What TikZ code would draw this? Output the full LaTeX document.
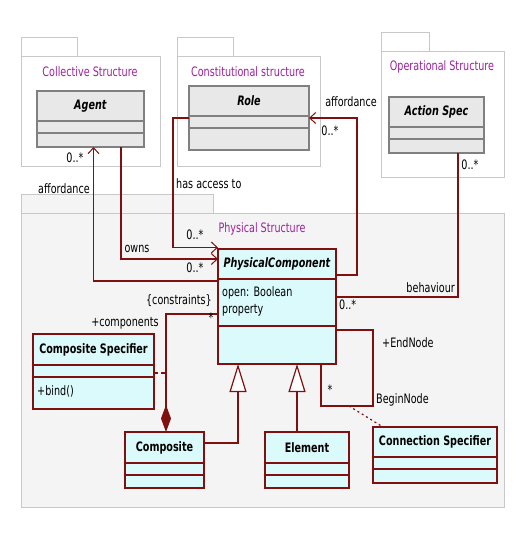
\documentclass[tikz,border=0pt]{standalone}
\usepackage{fontspec}
\setmainfont{DejaVu Sans}[FakeStretch=0.74]
\usetikzlibrary{arrows.meta,calc}
\definecolor{pkgborder}{RGB}{200,200,200}
\definecolor{pkgfill}{RGB}{244,244,244}
\definecolor{pkgtitle}{RGB}{160,32,160}
\definecolor{grayfill}{RGB}{232,232,232}
\definecolor{grayline}{RGB}{128,128,128}
\definecolor{cyanfill}{RGB}{218,250,252}
\definecolor{redline}{RGB}{128,16,16}
\tikzset{
  pkg/.style={draw=pkgborder,line width=1pt},
  pkgname/.style={text=pkgtitle,inner sep=0pt},
  gray/.style={draw=grayline,fill=grayfill,line width=1.4pt,inner sep=0pt,outer sep=0pt},
  grayline/.style={draw=grayline,line width=1.4pt},
  cyan/.style={draw=redline,fill=cyanfill,line width=1.4pt,inner sep=0pt,outer sep=0pt},
  cyanline/.style={draw=redline,line width=1.4pt},
  ctitle/.style={inner sep=0pt,font=\fontsize{13}{15}\selectfont\bfseries},
  lbl/.style={inner sep=0pt},
  assoc/.style={draw=redline,line width=1.2pt},
  openarrow/.style={-{Straight Barb[length=6pt,width=11pt,line width=1pt]}},
  genarrow/.style={-{Triangle[open,length=28pt,width=17pt,fill=white,line width=1.2pt]}},
  comparrow/.style={-{Diamond[length=27pt,width=10pt]}},
}
\newcommand\umlclass[9]{%
  \node[#2,anchor=north west,minimum width=#5pt,minimum height=#6pt] (#1) at (#3,#4) {};
  \draw[#2line] ([yshift=-#7pt]#1.north west) -- ([yshift=-#7pt]#1.north east)
                ([yshift=-#8pt]#1.north west) -- ([yshift=-#8pt]#1.north east);
  \node[ctitle] (#1-title) at ($(#1.north west)!0.5!([yshift=-#7pt]#1.north east)$) {#9};
}
\begin{document}
\begin{tikzpicture}[x=1pt,y=-1pt,font=\fontsize{13}{15}\selectfont]
\useasboundingbox[fill=white] (0,0) rectangle (526,536);
% packages
\draw[pkg,fill=white] (21,37) rectangle (77,56);
\draw[pkg,fill=white] (21,56) rectangle (160,166);
\node[pkgname] (collname) at (90,72) {Collective Structure};
\draw[pkg,fill=white] (177,37) rectangle (233,56);
\draw[pkg,fill=white] (177,56) rectangle (320,166);
\node[pkgname] (constname) at (248,72) {Constitutional structure};
\draw[pkg,fill=white] (381,32) rectangle (429,51);
\draw[pkg,fill=white] (381,51) rectangle (504,177);
\node[pkgname] (opername) at (442,67) {Operational Structure};
\draw[pkg,fill=pkgfill] (21,194) rectangle (213,213);
\draw[pkg,fill=pkgfill] (21,213) rectangle (504,507);
\node[pkgname] (physname) at (262,229) {Physical Structure};
% classes
\umlclass{agent}{gray}{37}{91}{107}{56}{30}{42}{\textit{Agent}}
\umlclass{role}{gray}{189}{86}{120}{64}{30}{42}{\textit{Role}}
\umlclass{action}{gray}{389}{97}{95}{56}{30}{42}{\textit{Action Spec}}
\umlclass{pc}{cyan}{218}{249}{118}{115}{30}{77}{\textit{PhysicalComponent}}
\umlclass{cspec}{cyan}{33}{334}{121}{75}{31}{43}{Composite Specifier}
\umlclass{composite}{cyan}{125}{432}{79}{56}{31}{43}{Composite}
\umlclass{element}{cyan}{265}{432}{84}{56}{31}{43}{Element}
\umlclass{connspec}{cyan}{373}{427}{124}{56}{30}{42}{Connection Specifier}
\node[lbl,anchor=west] (pcattr1) at (222,293) {open: Boolean};
\node[lbl,anchor=west] (pcattr2) at (222,310) {property};
\node[lbl,anchor=west] (bind) at (37,391) {+bind()};
% connectors
\draw[assoc,openarrow] ([yshift=-32pt]pc.north west) -| ([xshift=3pt]agent.south);
\draw[assoc,openarrow] ([xshift=30.5pt]agent.south) |- ([yshift=-10pt]pc.north west);
\draw[assoc,openarrow] ([yshift=-32pt]role.north west) -- ++(-16,0) |- ([yshift=1.5pt]pc.north west);
\draw[assoc,openarrow] ([yshift=-26pt]pc.north east) -- ++(21,0) |- ([yshift=-32pt]role.north east);
\draw[assoc] ([xshift=21.5pt]action.south) |- ([yshift=-48pt]pc.north east);
\draw[assoc] ([yshift=-81pt]pc.north east) -- ++(37,0) -- ++(0,76) -| ([xshift=-15pt]pc.south east);
\coordinate (assocpt) at ([xshift=13pt,yshift=-42pt]pc.south east);
\draw[assoc,dash pattern=on 2pt off 3pt] (assocpt) -- ([xshift=-52pt]connspec.north);
\draw[assoc,comparrow] ([yshift=-65pt]pc.north west) -| ([xshift=1.5pt]composite.north);
\draw[assoc,dash pattern=on 4pt off 3pt] ([yshift=-39pt]cspec.north east) -- ++(12,0);
\draw[assoc,genarrow] ([yshift=-11pt]composite.north east) -| ([xshift=-39pt]pc.south);
\draw[assoc,genarrow] ([xshift=-10pt]element.north) -- ([xshift=20pt]pc.south);
% labels
\node[lbl] (m1) at (75,158) {0..*};
\node[lbl] (l1) at (64,189) {affordance};
\node[lbl] (l2) at (137,249) {owns};
\node[lbl] (m2) at (195,235) {0..*};
\node[lbl] (m3) at (195,268) {0..*};
\node[lbl,anchor=west] (l3) at (176,184) {has access to};
\node[lbl] (l4) at (351,102) {affordance};
\node[lbl] (m4) at (330,131) {0..*};
\node[lbl] (m5) at (470,165) {0..*};
\node[lbl,anchor=east] (l5) at (455,288) {behaviour};
\node[lbl,anchor=west] (m6) at (339,305) {0..*};
\node[lbl,anchor=west] (l6) at (382,343) {+EndNode};
\node[lbl,anchor=west] (l7) at (376,400) {BeginNode};
\node[lbl] (m7) at (330,390) {*};
\node[lbl,anchor=east] (l8) at (212,301) {\{constraints\}};
\node[lbl] (l9) at (125,323) {+components};
\node[lbl] (m8) at (211,318) {*};
\end{tikzpicture}
\end{document}
